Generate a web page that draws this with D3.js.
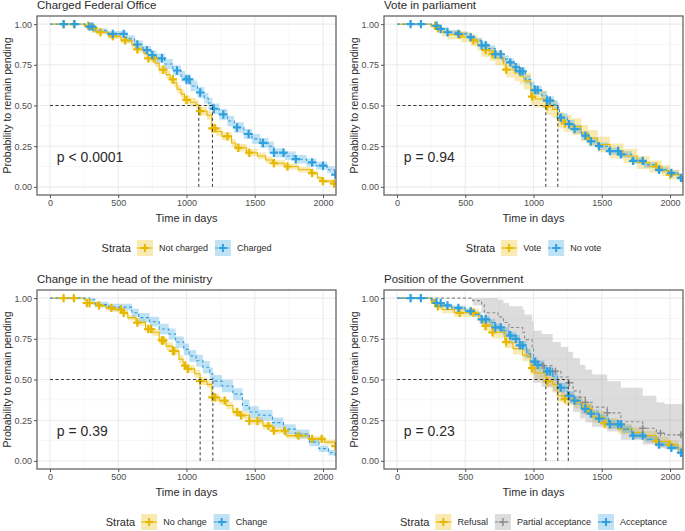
<!DOCTYPE html>
<html><head><meta charset="utf-8">
<script src="https://cdn.jsdelivr.net/npm/d3@7"></script>
<style>body{margin:0;background:#fff} svg{display:block} text{font-family:"Liberation Sans",Arial,sans-serif}</style>
</head><body><svg id="c" width="685" height="531"></svg>
<script>
// ---------- DATA ----------
// step rows: [time, survival, halfwidth] or [time, survival, lower, upper]
const xTicks = [0, 500, 1000, 1500, 2000];
const yTicks = [0, 0.25, 0.5, 0.75, 1];

const p1NotCharged = [[0,1,0],[255,0.99,0.008],[300,0.975,0.012],[340,0.95,0.015],[430,0.925,0.017],[520,0.9,0.019],[600,0.87,0.02],[630,0.845,0.021],[690,0.82,0.022],[720,0.79,0.023],[770,0.76,0.024],[800,0.72,0.025],[850,0.69,0.025],[880,0.66,0.026],[905,0.64,0.026],[930,0.6,0.026],[960,0.57,0.027],[985,0.535,0.027],[1030,0.52,0.027],[1070,0.505,0.027],[1090,0.465,0.027],[1150,0.44,0.027],[1185,0.36,0.026],[1215,0.34,0.026],[1260,0.31,0.025],[1330,0.27,0.024],[1360,0.24,0.023],[1440,0.21,0.022],[1520,0.19,0.021],[1580,0.165,0.02],[1630,0.145,0.019],[1720,0.125,0.018],[1820,0.105,0.017],[1910,0.085,0.015],[1960,0.055,0.013],[1990,0.035,0.011],[2080,0.02,0.01]];
const p1Charged = [[0,1,0],[260,0.985,0.01],[330,0.96,0.015],[420,0.94,0.018],[560,0.91,0.021],[620,0.875,0.024],[680,0.84,0.026],[740,0.81,0.028],[780,0.79,0.029],[840,0.755,0.03],[900,0.715,0.031],[960,0.68,0.032],[990,0.66,0.032],[1030,0.62,0.033],[1080,0.58,0.033],[1130,0.545,0.033],[1160,0.515,0.033],[1190,0.48,0.033],[1240,0.445,0.033],[1300,0.405,0.032],[1350,0.365,0.032],[1420,0.325,0.031],[1480,0.295,0.03],[1540,0.27,0.03],[1600,0.25,0.029],[1640,0.21,0.028],[1720,0.19,0.027],[1800,0.17,0.026],[1880,0.15,0.025],[1950,0.13,0.024],[2030,0.105,0.022],[2085,0.075,0.02]];
const p1NotChargedCens = [100,175,280,320,370,460,550,640,720,760,830,900,1000,1100,1190,1210,1300,1380,1460,1640,1740,1920,2000,2080];
const p1ChargedCens = [100,180,290,310,460,540,640,710,750,820,930,1000,1020,1100,1200,1270,1370,1455,1560,1640,1710,1800,1920,2000,2090];

const p2Vote = [[0,1,0],[250,0.99,0.015],[290,0.975,0.02],[330,0.95,0.025],[370,0.935,0.028],[470,0.92,0.032],[540,0.9,0.035],[590,0.875,0.038],[620,0.84,0.04],[680,0.815,0.042],[720,0.79,0.044],[780,0.755,0.046],[800,0.72,0.048],[860,0.7,0.049],[900,0.68,0.05],[930,0.65,0.051],[980,0.555,0.052],[1010,0.54,0.052],[1090,0.495,0.052],[1140,0.475,0.052],[1175,0.41,0.052],[1220,0.39,0.052],[1280,0.37,0.051],[1350,0.33,0.05],[1400,0.3,0.05],[1470,0.26,0.048],[1560,0.22,0.046],[1660,0.19,0.044],[1760,0.15,0.04],[1850,0.125,0.037],[1940,0.1,0.034],[2000,0.075,0.03],[2070,0.055,0.026]];
const p2NoVote = [[0,1,0],[250,0.99,0.008],[300,0.97,0.011],[370,0.95,0.013],[440,0.94,0.014],[520,0.92,0.016],[570,0.9,0.017],[620,0.87,0.019],[670,0.85,0.02],[720,0.815,0.021],[770,0.785,0.022],[820,0.765,0.023],[860,0.735,0.024],[900,0.71,0.025],[940,0.66,0.026],[980,0.62,0.026],[1010,0.595,0.027],[1060,0.56,0.027],[1100,0.53,0.027],[1150,0.505,0.027],[1178,0.49,0.027],[1190,0.425,0.027],[1250,0.385,0.026],[1300,0.355,0.026],[1350,0.315,0.025],[1410,0.28,0.024],[1470,0.25,0.023],[1550,0.22,0.022],[1630,0.2,0.021],[1720,0.16,0.02],[1810,0.135,0.018],[1900,0.105,0.016],[1990,0.085,0.015],[2060,0.055,0.013],[2090,0.035,0.011]];
const p2VoteCens = [280,300,460,560,650,700,800,990,1100,1230,1400,1900,2000];
const p2NoVoteCens = [100,175,290,320,370,450,540,620,650,720,760,830,870,900,920,1010,1030,1100,1120,1200,1260,1300,1380,1420,1480,1560,1620,1640,1730,1800,1920,2010,2080];

const p3NoChange = [[0,1,0],[250,0.99,0.007],[270,0.97,0.01],[350,0.955,0.012],[410,0.94,0.014],[460,0.93,0.015],[530,0.91,0.016],[570,0.88,0.018],[630,0.85,0.019],[700,0.81,0.02],[750,0.79,0.021],[800,0.74,0.022],[850,0.705,0.023],[900,0.675,0.023],[945,0.625,0.024],[975,0.585,0.024],[1000,0.565,0.024],[1060,0.535,0.024],[1100,0.49,0.024],[1150,0.47,0.024],[1185,0.39,0.024],[1240,0.37,0.023],[1290,0.34,0.023],[1340,0.3,0.022],[1390,0.28,0.022],[1460,0.245,0.021],[1560,0.215,0.02],[1630,0.185,0.019],[1730,0.155,0.018],[1900,0.135,0.017],[2010,0.115,0.016],[2090,0.09,0.015]];
const p3Change = [[0,1,0],[290,0.99,0.01],[330,0.96,0.018],[430,0.945,0.021],[600,0.91,0.025],[650,0.88,0.028],[730,0.855,0.03],[800,0.81,0.032],[870,0.78,0.034],[920,0.73,0.035],[980,0.685,0.036],[1020,0.645,0.037],[1070,0.615,0.037],[1120,0.575,0.038],[1170,0.535,0.038],[1193,0.49,0.038],[1260,0.46,0.038],[1340,0.41,0.037],[1410,0.34,0.036],[1460,0.3,0.035],[1530,0.28,0.034],[1630,0.235,0.032],[1710,0.195,0.03],[1800,0.165,0.028],[1900,0.115,0.025],[1970,0.075,0.02],[2040,0.05,0.017],[2090,0.03,0.014]];
const p3NoChangeCens = [100,175,270,290,360,450,520,540,640,720,740,820,830,900,910,990,1010,1100,1190,1210,1280,1370,1400,1460,1520,1600,1640,1720,1820,1920,1990,2090];
const p3ChangeCens = [];

const p4Refusal = [[0,1,0],[250,0.98,0.012],[280,0.97,0.015],[300,0.95,0.02],[330,0.93,0.023],[420,0.91,0.026],[600,0.87,0.03],[630,0.83,0.032],[700,0.79,0.034],[790,0.73,0.036],[850,0.69,0.037],[920,0.65,0.038],[975,0.57,0.039],[1010,0.54,0.039],[1090,0.49,0.04],[1140,0.47,0.04],[1175,0.4,0.039],[1230,0.38,0.039],[1300,0.36,0.038],[1360,0.32,0.037],[1430,0.27,0.036],[1520,0.23,0.034],[1620,0.195,0.032],[1720,0.175,0.031],[1800,0.155,0.03],[1900,0.12,0.027],[1990,0.1,0.025],[2060,0.07,0.022]];
const p4Partial = [[0,1,1,1],[555,0.985,0.955,1],[620,0.965,0.91,1],[640,0.91,0.83,1],[740,0.885,0.8,0.99],[780,0.85,0.76,0.97],[820,0.82,0.72,0.95],[920,0.79,0.68,0.93],[935,0.745,0.63,0.9],[990,0.7,0.58,0.86],[1000,0.61,0.48,0.8],[1060,0.585,0.455,0.78],[1140,0.55,0.42,0.73],[1200,0.515,0.385,0.7],[1255,0.48,0.35,0.67],[1290,0.43,0.3,0.63],[1340,0.39,0.26,0.59],[1380,0.36,0.235,0.56],[1430,0.33,0.21,0.53],[1540,0.295,0.18,0.49],[1640,0.24,0.13,0.45],[1800,0.2,0.1,0.4],[1900,0.17,0.08,0.36],[1960,0.16,0.07,0.35]];
const p4Acceptance = [[0,1,0],[250,0.99,0.007],[290,0.97,0.01],[330,0.955,0.012],[400,0.94,0.014],[500,0.92,0.016],[570,0.9,0.018],[620,0.87,0.02],[680,0.85,0.021],[720,0.82,0.022],[770,0.8,0.023],[820,0.77,0.024],[870,0.75,0.025],[900,0.71,0.026],[950,0.66,0.027],[980,0.61,0.028],[1030,0.59,0.028],[1080,0.55,0.028],[1140,0.52,0.028],[1178,0.47,0.028],[1190,0.45,0.028],[1250,0.4,0.028],[1300,0.37,0.027],[1350,0.32,0.027],[1420,0.29,0.026],[1480,0.26,0.025],[1550,0.225,0.024],[1650,0.195,0.022],[1720,0.155,0.02],[1820,0.133,0.019],[1920,0.1,0.017],[2000,0.08,0.015],[2060,0.05,0.013],[2090,0.03,0.011]];
const p4RefusalCens = [280,300,460,560,650,700,800,990,1100,1230,1400,1520,1900,2000];
const p4PartialCens = [1070,1160,1260,1380,1540,1800,1930,2080];
const p4AcceptanceCens = [100,175,290,320,370,450,540,620,650,720,760,830,870,900,920,1010,1030,1100,1120,1200,1260,1300,1380,1420,1480,1560,1620,1640,1730,1800,1920,2010,2080];

const titles = ["Charged Federal Office", "Vote in parliament", "Change in the head of the ministry", "Position of the Government"];
const pvalues = ["p < 0.0001", "p = 0.94", "p = 0.39", "p = 0.23"];
const strataNames = [["Not charged","Charged"],["Vote","No vote"],["No change","Change"],["Refusal","Partial acceptance","Acceptance"]];

// ---------- STYLE / LAYOUT ----------
const YEL = "#E7B800", BLU = "#2E9FDF", GRY = "#8C8C8C";
const DASH2 = "3,2.5", DASH3 = "6,2.5";
const panels = [
  {strata:[{d:p1NotCharged,c:p1NotChargedCens,col:YEL,dash:null},{d:p1Charged,c:p1ChargedCens,col:BLU,dash:DASH2}]},
  {strata:[{d:p2Vote,c:p2VoteCens,col:YEL,dash:null},{d:p2NoVote,c:p2NoVoteCens,col:BLU,dash:DASH2}]},
  {strata:[{d:p3NoChange,c:p3NoChangeCens,col:YEL,dash:null},{d:p3Change,c:p3ChangeCens,col:BLU,dash:DASH2}]},
  {strata:[{d:p4Refusal,c:p4RefusalCens,col:YEL,dash:null},{d:p4Partial,c:p4PartialCens,col:GRY,dash:DASH2},{d:p4Acceptance,c:p4AcceptanceCens,col:BLU,dash:DASH3}]}
];
const layout = [{left:37,top:16},{left:384,top:16},{left:37,top:290},{left:384,top:290}];
const PW = 299, PH = 179, XMIN = -95, XMAX = 2095;
const FONT = '"Liberation Sans",Arial,sans-serif';
const TXT = "#2b2b2b";

const svg = d3.select("#c");
const defs = svg.append("defs");

function rowsOf(d){
  return d.map(r => r.length > 3 ? {t:r[0], s:r[1], lo:r[2], hi:r[3]}
                                 : {t:r[0], s:r[1], lo:Math.max(0,r[1]-r[2]), hi:Math.min(1,r[1]+r[2])});
}
function survAt(rows, t){ let v = rows[0].s; for (const r of rows) { if (r.t <= t) v = r.s; else break; } return v; }
function plusPath(sz){ return `M${-sz},0H${sz}M0,${-sz}V${sz}`; }

panels.forEach((p, i) => {
  const L = layout[i];
  const g = svg.append("g");
  const x = d3.scaleLinear().domain([XMIN, XMAX]).range([L.left, L.left + PW]);
  const y = d3.scaleLinear().domain([-0.05, 1.05]).range([L.top + PH, L.top]);

  // grid
  const grid = g.append("g");
  [250,750,1250,1750].forEach(v => grid.append("line").attr("x1",x(v)).attr("x2",x(v)).attr("y1",L.top).attr("y2",L.top+PH).attr("stroke","#F3F3F3").attr("stroke-width",0.7));
  [0.125,0.375,0.625,0.875].forEach(v => grid.append("line").attr("y1",y(v)).attr("y2",y(v)).attr("x1",L.left).attr("x2",L.left+PW).attr("stroke","#F3F3F3").attr("stroke-width",0.7));
  xTicks.forEach(v => grid.append("line").attr("x1",x(v)).attr("x2",x(v)).attr("y1",L.top).attr("y2",L.top+PH).attr("stroke","#EBEBEB").attr("stroke-width",1.1));
  yTicks.forEach(v => grid.append("line").attr("y1",y(v)).attr("y2",y(v)).attr("x1",L.left).attr("x2",L.left+PW).attr("stroke","#EBEBEB").attr("stroke-width",1.1));

  const cid = "clip" + i;
  defs.append("clipPath").attr("id", cid).append("rect").attr("x",L.left).attr("y",L.top).attr("width",PW).attr("height",PH);
  const plot = g.append("g").attr("clip-path", `url(#${cid})`);

  const all = p.strata.map(s => { const r = rowsOf(s.d); return {s, rows: r, ext: r.concat([{...r[r.length-1], t: XMAX}])}; });

  const area = d3.area().curve(d3.curveStepAfter).x(d => x(d.t)).y0(d => y(d.lo)).y1(d => y(d.hi));
  const line = d3.line().curve(d3.curveStepAfter).x(d => x(d.t)).y(d => y(d.s));

  all.forEach(a => plot.append("path").attr("d", area(a.ext)).attr("fill", a.s.col).attr("fill-opacity", 0.3));
  all.forEach(a => plot.append("path").attr("d", line(a.ext)).attr("fill","none").attr("stroke", a.s.col).attr("stroke-width",1.1).attr("stroke-dasharray", a.s.dash));
  all.forEach(a => {
    const big = a.s.col !== GRY;
    a.s.c.forEach(t => plot.append("path").attr("d", plusPath(big ? 4.2 : 3.5))
      .attr("transform", `translate(${x(t)},${y(survAt(a.rows, t))})`)
      .attr("stroke", a.s.col).attr("stroke-width", big ? 2.2 : 1.5).attr("fill","none"));
  });

  // median lines
  const meds = all.map(a => { const r = a.rows.find(d => d.s <= 0.5); return r ? r.t : null; }).filter(v => v !== null);
  const mmax = d3.max(meds);
  plot.append("line").attr("x1",x(0)).attr("x2",x(mmax)).attr("y1",y(0.5)).attr("y2",y(0.5)).attr("stroke","#222").attr("stroke-width",0.9).attr("stroke-dasharray","3,2.5");
  meds.forEach(m => plot.append("line").attr("x1",x(m)).attr("x2",x(m)).attr("y1",y(0)).attr("y2",y(0.5)).attr("stroke","#222").attr("stroke-width",0.9).attr("stroke-dasharray","3,2.5"));

  // border
  g.append("rect").attr("x",L.left).attr("y",L.top).attr("width",PW).attr("height",PH).attr("fill","none").attr("stroke","#666").attr("stroke-width",1.3);

  // axes
  const ax = g.append("g").attr("transform",`translate(0,${L.top+PH})`).call(d3.axisBottom(x).tickValues(xTicks).tickSize(3).tickPadding(2).tickFormat(d3.format("d")));
  const ay = g.append("g").attr("transform",`translate(${L.left},0)`).call(d3.axisLeft(y).tickValues(yTicks).tickSize(3).tickPadding(2).tickFormat(d3.format(".2f")));
  [ax, ay].forEach(a => { a.select(".domain").remove(); a.selectAll("line").attr("stroke","#555"); a.selectAll("text").attr("fill","#4D4D4D").style("font-size","9px").style("font-family",FONT); });

  // texts
  g.append("text").attr("x",L.left).attr("y",L.top-7).text(titles[i]).style("font-size","11.5px").attr("fill",TXT);
  g.append("text").attr("x",L.left+PW/2).attr("y",L.top+PH+27).attr("text-anchor","middle").text("Time in days").style("font-size","11px").attr("fill",TXT);
  g.append("text").attr("transform",`translate(${L.left-29},${L.top+PH/2}) rotate(-90)`).attr("text-anchor","middle").attr("dominant-baseline","middle").text("Probability to remain pending").style("font-size","10.5px").attr("fill",TXT);
  g.append("text").attr("x",x(50)).attr("y",y(0.155)).text(pvalues[i]).style("font-size","14px").attr("fill",TXT);

  // legend
  const lg = g.append("g");
  let cx = 0;
  const t0 = lg.append("text").attr("x",0).attr("y",0).attr("dominant-baseline","central").text("Strata").style("font-size","11px").attr("fill",TXT);
  cx = t0.node().getComputedTextLength() + 6;
  all.forEach((a, k) => {
    const kg = lg.append("g").attr("transform",`translate(${cx},-8)`);
    kg.append("rect").attr("width",16).attr("height",16).attr("fill",a.s.col).attr("fill-opacity",0.3);
    kg.append("line").attr("x1",0).attr("x2",16).attr("y1",8).attr("y2",8).attr("stroke",a.s.col).attr("stroke-width",1.1).attr("stroke-dasharray",a.s.dash);
    kg.append("path").attr("d",plusPath(4)).attr("transform","translate(8,8)").attr("stroke",a.s.col).attr("stroke-width", a.s.col===GRY?1.5:2).attr("fill","none");
    cx += 16 + 6;
    const tx = lg.append("text").attr("x",cx).attr("y",0).attr("dominant-baseline","central").text(strataNames[i][k]).style("font-size","9px").attr("fill",TXT);
    cx += tx.node().getComputedTextLength() + 7;
  });
  const lw = cx - 7;
  lg.attr("transform",`translate(${L.left + PW/2 - lw/2},${L.top + PH + 53})`);
});
</script></body></html>
